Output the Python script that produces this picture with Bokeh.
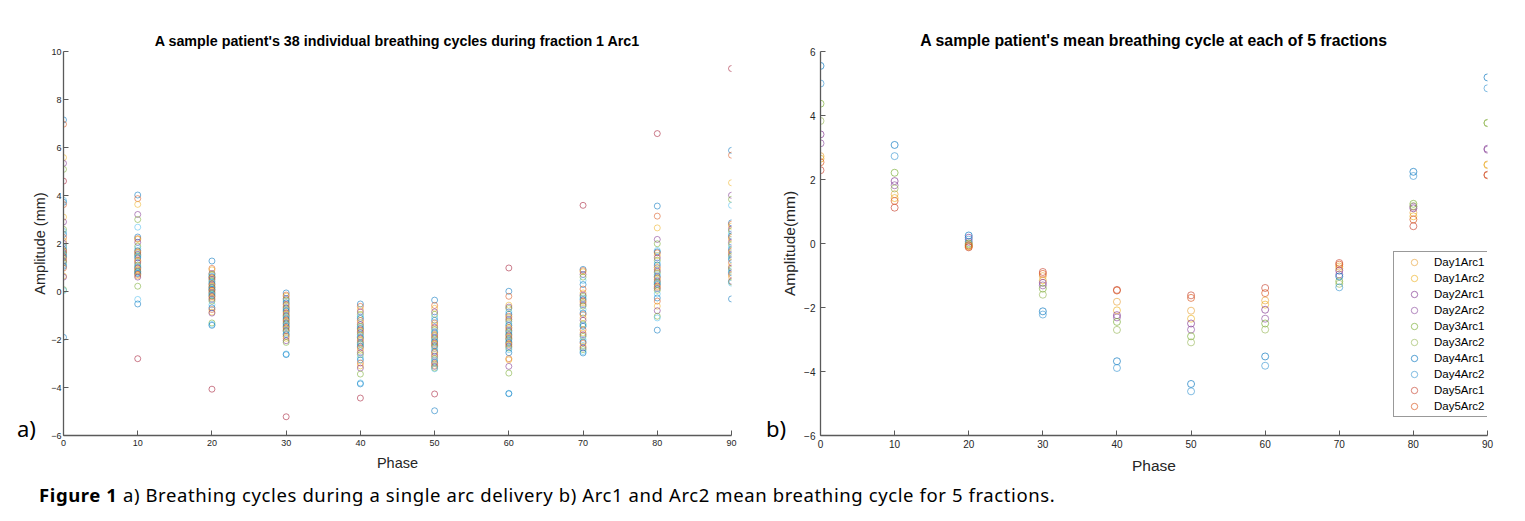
from bokeh.plotting import figure
from bokeh.models import ColumnDataSource, FixedTicker, Legend, LegendItem, Div
from bokeh.layouts import row, column
from bokeh.embed import file_html
from bokeh.resources import INLINE

# ---------------- data: panel a (38 individual cycles, amplitude per phase) ----------------
phases = [0, 10, 20, 30, 40, 50, 60, 70, 80, 90]

amp_p0 = [4.60, 7.15, 6.97, 5.58, 5.34, 5.09, 3.80, 3.72, 3.62, 3.10, 2.90, 2.59, 2.50, 2.38,
          2.25, 2.10, 2.00, 1.89, 1.85, 1.75, 1.70, 1.65, 1.61, 1.55, 1.51, 1.45, 1.40, 1.30,
          1.26, 1.20, 1.12, 1.05, 0.98, 0.64, 0.60, 0.08, 0.04, -1.91]
amp_p10 = [-2.80, 4.02, 3.87, 3.63, 3.21, 3.00, 2.68, 2.27, 2.20, 2.17, 2.05, 1.89, 1.80, 1.70,
           1.65, 1.61, 1.55, 1.50, 1.45, 1.40, 1.30, 1.25, 1.19, 1.10, 1.05, 1.00, 0.95, 0.90,
           0.85, 0.82, 0.78, 0.75, 0.71, 0.65, 0.60, 0.22, -0.33, -0.52]
amp_p20 = [-4.07, 1.27, 0.96, 0.90, 0.75, 0.71, 0.65, 0.61, 0.58, 0.55, 0.50, 0.43, 0.38, 0.32,
           0.28, 0.22, 0.18, 0.15, 0.10, 0.08, 0.05, 0.00, -0.05, -0.10, -0.13, -0.18, -0.22,
           -0.28, -0.33, -0.40, -0.55, -0.68, -0.75, -0.86, -0.90, -1.31, -1.37, -1.41]
amp_p30 = [-5.22, -0.06, -0.15, -0.20, -0.30, -0.35, -0.41, -0.48, -0.55, -0.62, -0.68, -0.73,
           -0.78, -0.82, -0.89, -0.95, -1.00, -1.05, -1.10, -1.15, -1.20, -1.25, -1.31, -1.35,
           -1.40, -1.45, -1.50, -1.56, -1.62, -1.66, -1.75, -1.80, -1.87, -1.95, -2.05, -2.12,
           -2.60, -2.63]
amp_p40 = [-4.44, -0.52, -0.62, -0.75, -0.85, -0.96, -1.05, -1.12, -1.21, -1.30, -1.38, -1.45,
           -1.49, -1.55, -1.60, -1.66, -1.72, -1.80, -1.87, -1.92, -1.98, -2.05, -2.12, -2.18,
           -2.21, -2.28, -2.35, -2.45, -2.55, -2.63, -2.75, -2.85, -2.98, -3.10, -3.19, -3.44,
           -3.81, -3.85]
amp_p50 = [-4.27, -0.36, -0.58, -0.70, -0.85, -0.95, -1.07, -1.20, -1.31, -1.40, -1.49, -1.58,
           -1.66, -1.72, -1.80, -1.85, -1.91, -1.98, -2.05, -2.10, -2.15, -2.20, -2.25, -2.30,
           -2.38, -2.49, -2.55, -2.63, -2.70, -2.80, -2.86, -2.94, -3.00, -3.08, -3.12, -3.19,
           -3.22, -4.97]
amp_p60 = [0.98, 0.01, -0.20, -0.57, -0.65, -0.71, -0.85, -0.95, -1.03, -1.10, -1.17, -1.25,
           -1.35, -1.42, -1.50, -1.55, -1.62, -1.68, -1.73, -1.80, -1.85, -1.91, -1.96, -2.00,
           -2.07, -2.12, -2.18, -2.22, -2.28, -2.35, -2.42, -2.55, -2.80, -2.85, -3.12, -3.40,
           -4.24, -4.26]
amp_p70 = [3.59, 0.92, 0.87, 0.82, 0.71, 0.60, 0.46, 0.29, 0.10, -0.06, -0.15, -0.20, -0.27,
           -0.33, -0.40, -0.47, -0.55, -0.61, -0.75, -0.90, -0.96, -1.10, -1.20, -1.35, -1.40,
           -1.45, -1.60, -1.73, -1.80, -1.87, -2.00, -2.10, -2.15, -2.28, -2.35, -2.42, -2.50,
           -2.56]
amp_p80 = [6.58, 3.56, 3.14, 2.65, 2.17, 1.99, 1.71, 1.65, 1.61, 1.50, 1.40, 1.30, 1.19, 1.10,
           1.00, 0.92, 0.85, 0.78, 0.70, 0.62, 0.57, 0.50, 0.43, 0.38, 0.34, 0.29, 0.22, 0.17,
           0.12, 0.05, -0.10, -0.27, -0.40, -0.61, -0.80, -1.03, -1.10, -1.61]
amp_p90 = [9.29, 5.88, 5.68, 4.53, 4.01, 3.84, 3.59, 2.86, 2.80, 2.72, 2.60, 2.52, 2.40, 2.31,
           2.25, 2.17, 2.05, 1.96, 1.85, 1.75, 1.68, 1.61, 1.54, 1.47, 1.40, 1.33, 1.20, 1.05,
           0.98, 0.92, 0.85, 0.78, 0.70, 0.60, 0.43, 0.40, 0.35, -0.31]

amp_by_phase = [amp_p0, amp_p10, amp_p20, amp_p30, amp_p40, amp_p50, amp_p60, amp_p70,
                amp_p80, amp_p90]

# ---------------- data: panel b (mean cycle per fraction/arc) ----------------
series_names = ["Day1Arc1", "Day1Arc2", "Day2Arc1", "Day2Arc2", "Day3Arc1",
                "Day3Arc2", "Day4Arc1", "Day4Arc2", "Day5Arc1", "Day5Arc2"]
day1arc1 = [2.73, 1.54, -0.08, -1.02, -1.82, -2.10, -1.78, -0.72, 0.96, 2.47]
day1arc2 = [2.65, 1.42, -0.10, -1.15, -2.09, -2.35, -1.91, -0.78, 0.85, 2.45]
day2arc1 = [3.41, 1.95, 0.18, -1.23, -2.24, -2.50, -2.07, -0.85, 1.10, 2.96]
day2arc2 = [3.13, 1.82, 0.05, -1.31, -2.31, -2.69, -2.35, -0.97, 1.15, 2.93]
day3arc1 = [4.37, 2.21, 0.00, -1.41, -2.45, -2.90, -2.50, -1.18, 1.24, 3.77]
day3arc2 = [3.83, 1.72, -0.03, -1.60, -2.70, -3.09, -2.69, -1.26, 1.17, 3.76]
day4arc1 = [5.55, 3.08, 0.25, -2.12, -3.68, -4.39, -3.53, -1.03, 2.24, 5.19]
day4arc2 = [5.00, 2.73, 0.12, -2.22, -3.89, -4.62, -3.82, -1.37, 2.11, 4.85]
day5arc1 = [2.29, 1.12, -0.12, -0.89, -1.45, -1.62, -1.39, -0.61, 0.54, 2.15]
day5arc2 = [2.54, 1.33, -0.06, -0.95, -1.47, -1.70, -1.55, -0.66, 0.75, 2.13]
series_values = [day1arc1, day1arc2, day2arc1, day2arc2, day3arc1,
                 day3arc2, day4arc1, day4arc2, day5arc1, day5arc2]

panel_tags = ["a)", "b)"]
caption_bold = "Figure 1"
caption_rest = (" a) Breathing cycles during a single arc delivery "
                "b) Arc1 and Arc2 mean breathing cycle for 5 fractions.")

# ---------------- styles ----------------
cycle_colors = ["#A2142F", "#0072BD", "#D95319", "#EDB120", "#7E2F8E", "#77AC30", "#4DBEEE"]
series_colors = ["#E8A33A", "#EDB120", "#7E2F8E", "#8E4FA0", "#77AC30",
                 "#9AB85A", "#0072BD", "#3D98D3", "#C8432F", "#D95319"]
FONT = "Liberation Sans"
AXIS_COLOR = "#5a5a5a"
TEXT_COLOR = "#262626"


def style_axes(p, xticks, yticks, tick_size, label_size, ystand, xstand, ytick_standoff, xtick_standoff):
    p.xaxis.ticker = FixedTicker(ticks=xticks)
    p.yaxis.ticker = FixedTicker(ticks=yticks)
    for ax in (p.xaxis[0], p.yaxis[0]):
        ax.axis_line_color = AXIS_COLOR
        ax.axis_line_width = 1.3
        ax.major_tick_line_color = AXIS_COLOR
        ax.major_tick_in = 5
        ax.major_tick_out = 0
        ax.minor_tick_line_color = None
        ax.major_label_text_font = FONT
        ax.major_label_text_font_size = tick_size
        ax.major_label_text_color = TEXT_COLOR
        ax.axis_label_text_font = FONT
        ax.axis_label_text_font_size = label_size
        ax.axis_label_text_font_style = "normal"
        ax.axis_label_text_color = TEXT_COLOR
    p.yaxis.axis_label_standoff = ystand
    p.xaxis.axis_label_standoff = xstand
    p.yaxis.major_label_standoff = ytick_standoff
    p.xaxis.major_label_standoff = xtick_standoff
    p.xgrid.grid_line_color = None
    p.ygrid.grid_line_color = None
    p.outline_line_color = None
    p.title.align = "center"
    p.title.text_font = FONT
    p.title.text_font_style = "bold"
    p.title.text_color = "#000000"


# ---------------- panel a ----------------
xs, ys, cs = [], [], []
for ph, vals in zip(phases, amp_by_phase):
    for i, v in enumerate(vals):
        xs.append(ph)
        ys.append(v)
        cs.append(cycle_colors[i % 7] if i == 0 else cycle_colors[1 + (i - 1) % 6])
src_a = ColumnDataSource(dict(x=xs, y=ys, c=cs))

p1 = figure(width=764, height=481, x_range=(0, 90), y_range=(-6, 10),
            output_backend="svg", toolbar_location=None,
            title="A sample patient's 38 individual breathing cycles during fraction 1 Arc1",
            x_axis_label="Phase", y_axis_label="Amplitude (mm)",
            min_border_left=63, min_border_right=33, min_border_top=51, min_border_bottom=46)
p1.scatter("x", "y", source=src_a, marker="circle", size=6, fill_color=None,
           line_color="c", line_alpha=0.55, line_width=1)
style_axes(p1, phases, list(range(-6, 11, 2)), "9px", "14.5px", 0, 6, 2, 4)
p1.title.text_font_size = "14.3px"
p1.title.standoff = 5

# ---------------- panel b ----------------
p2 = figure(width=761, height=481, x_range=(0, 90), y_range=(-6, 6),
            output_backend="svg", toolbar_location=None,
            title="A sample patient's mean breathing cycle at each of 5 fractions",
            x_axis_label="Phase", y_axis_label="Amplitude(mm)",
            min_border_left=56, min_border_right=38, min_border_top=51, min_border_bottom=46)
items = []
for name, vals, col in zip(series_names, series_values, series_colors):
    r = p2.scatter(phases, vals, marker="circle", size=7, fill_color=None,
                   line_color=col, line_alpha=0.65, line_width=1)
    items.append(LegendItem(label=name, renderers=[r]))
style_axes(p2, phases, list(range(-6, 7, 2)), "10px", "15.5px", 3, 6, 5, 4)
p2.title.text_font_size = "15.8px"
p2.title.standoff = 5
legend = Legend(items=items, location=(573, 18), padding=2, margin=0, spacing=0,
                glyph_width=36, glyph_height=16, label_height=16, label_standoff=2,
                label_text_font=FONT, label_text_font_size="11.5px", label_text_color="#000000",
                border_line_color="#333333", border_line_width=1, background_fill_alpha=1)
p2.add_layout(legend)

# ---------------- caption with panel tags ----------------
tag_style = ("position:absolute; top:-70px; font-size:22px; line-height:24px; "
             "letter-spacing:0; font-family:'Noto Sans'; color:#000;")
caption_html = (
    '<div style="position:relative; height:0;">'
    f'<span style="{tag_style} left:-22px;">{panel_tags[0]}</span>'
    f'<span style="{tag_style} left:727px;">{panel_tags[1]}</span>'
    '</div>'
    f"<b>{caption_bold}</b>{caption_rest}"
)
caption = Div(text=caption_html, width=1520, height=30,
              styles={"font-family": "Noto Sans", "font-size": "18.5px", "color": "#000",
                      "padding-left": "34px", "line-height": "18px", "white-space": "nowrap",
                      "letter-spacing": "0.6px", "overflow": "visible"})

layout = column(row(p1, p2), caption)
open("out.html", "w").write(file_html(layout, INLINE))
